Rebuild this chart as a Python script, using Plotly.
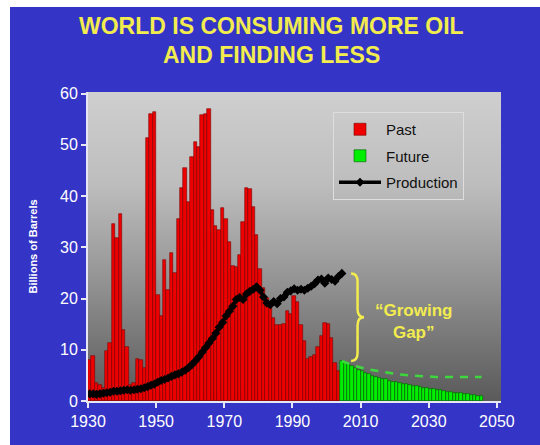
import base64
import plotly.graph_objects as go

# Annual oil discoveries (billions of barrels), 1930-2003
past_years = list(range(1930, 2004))
past_found = [
    8.0, 8.8, 3.5, 3.2, 2.6, 9.7, 11.4, 34.5, 31.8, 36.5,
    13.9, 10.5, 3.1, 3.6, 8.2, 8.0, 6.5, 51.3, 56.0, 56.4,
    20.7, 16.5, 27.6, 21.7, 28.8, 25.0, 35.5, 41.6, 45.4, 38.8,
    47.7, 50.5, 49.5, 55.8, 56.0, 57.0, 37.3, 34.2, 33.3, 37.6,
    35.5, 31.1, 26.3, 26.1, 28.5, 35.0, 41.6, 41.3, 37.9, 32.4,
    25.7, 22.1, 20.1, 18.8, 16.2, 14.9, 14.9, 15.1, 17.6, 16.9,
    20.5, 19.3, 14.9, 11.8, 8.2, 8.6, 9.0, 10.5, 12.6, 15.2,
    15.0, 12.3, 7.5, 5.8,
]

# Projected discoveries, 2004-2045
future_years = list(range(2004, 2046))
future_found = [
    7.8, 7.7, 7.3, 6.9, 6.5, 6.1, 5.8, 5.5, 5.2, 4.9,
    4.7, 4.5, 4.3, 4.2, 4.0, 3.8, 3.7, 3.5, 3.4, 3.3,
    3.1, 3.0, 2.9, 2.8, 2.6, 2.5, 2.4, 2.3, 2.2, 2.1,
    1.9, 1.8, 1.7, 1.6, 1.6, 1.5, 1.4, 1.3, 1.2, 1.1,
    1.0, 0.9,
]

# Annual production, 1930-2004
prod_years = list(range(1930, 2005))
production = [
    1.4, 1.4, 1.3, 1.4, 1.5, 1.6, 1.7, 1.9, 1.9, 2.0,
    2.1, 2.2, 2.1, 2.2, 2.3, 2.4, 2.6, 2.8, 3.1, 3.3,
    3.7, 4.0, 4.2, 4.5, 4.8, 5.1, 5.3, 5.6, 6.0, 6.5,
    7.1, 7.8, 8.6, 9.5, 10.4, 11.3, 12.2, 13.2, 14.4, 15.3,
    16.6, 17.5, 18.5, 19.8, 20.2, 19.8, 20.9, 21.4, 21.8, 22.3,
    21.6, 20.3, 19.1, 18.8, 19.4, 19.0, 20.0, 20.3, 21.2, 21.5,
    21.9, 21.6, 21.8, 21.6, 22.0, 22.4, 22.9, 23.6, 23.8, 23.0,
    24.0, 23.7, 23.4, 24.3, 24.9,
]

# Dashed outlook line for future discoveries
trend_years = [2004.5, 2008, 2012, 2016, 2020, 2024, 2028, 2032, 2045.5]
trend_vals = [7.8, 6.9, 6.2, 5.7, 5.3, 5.0, 4.8, 4.7, 4.7]

x_ticks = list(range(1930, 2051, 20))
y_ticks = list(range(0, 61, 10))

title_lines = ["WORLD IS CONSUMING MORE OIL", "AND FINDING LESS"]

BLUE = "#3434c6"
YELLOW = "#f2ec4e"
FONT = "Arial, 'Liberation Sans', sans-serif"

W, H = 540, 445
ML, MR, MT, MB = 88, 39, 92, 44
PW, PH = W - ML - MR, H - MT - MB

fig = go.Figure()

fig.add_trace(go.Bar(
    x=past_years, y=past_found, width=1, offset=0, name="Past",
    legendgroup="a",
    marker=dict(color="#ee0000", line=dict(color="#7a0000", width=0.6)),
))
fig.add_trace(go.Bar(
    x=future_years, y=future_found, width=1, offset=0, name="Future",
    legendgroup="b",
    marker=dict(color="#00ee00", line=dict(color="#0a5a0a", width=0.6)),
))
fig.add_trace(go.Scatter(
    x=trend_years, y=trend_vals, mode="lines", showlegend=False,
    line=dict(color="#3ed83e", width=2.5, dash="8px,7px"),
))
fig.add_trace(go.Scatter(
    x=[y + 0.5 for y in prod_years], y=production, mode="lines+markers",
    name="Production", legendgroup="c",
    line=dict(color="black", width=3.5),
    marker=dict(symbol="diamond", size=7, color="black"),
))

# Curly brace spanning the gap between production and new discoveries
top = production[-1]
bot = future_found[0]
mid = (top + bot) / 2
xl, xs, xt, r = 2007.2, 2009.1, 2011.0, 1.6
brace = (
    f"M {xl},{top} Q {xs},{top} {xs},{top - r} L {xs},{mid + r} "
    f"Q {xs},{mid} {xt},{mid} Q {xs},{mid} {xs},{mid - r} "
    f"L {xs},{bot + r} Q {xs},{bot} {xl},{bot}"
)
shapes = [dict(type="path", path=brace, xref="x", yref="y",
               line=dict(color=YELLOW, width=2.5))]


def px_x(px):
    return (px - ML) / PW


def px_y(py):
    return (H - MB - py) / PH


# white page edge along the top and left
shapes.append(dict(type="rect", xref="paper", yref="paper",
                   x0=px_x(-5), x1=px_x(W + 5), y0=px_y(7), y1=px_y(-5),
                   fillcolor="white", line=dict(width=0), layer="above"))
shapes.append(dict(type="rect", xref="paper", yref="paper",
                   x0=px_x(-5), x1=px_x(10), y0=px_y(H + 5), y1=px_y(-5),
                   fillcolor="white", line=dict(width=0), layer="above"))

# vertical grey gradient behind the plot area
svg = (
    "<svg xmlns='http://www.w3.org/2000/svg' width='10' height='100' "
    "preserveAspectRatio='none' viewBox='0 0 10 100'>"
    "<defs><linearGradient id='g' x1='0' y1='0' x2='0' y2='1'>"
    "<stop offset='0' stop-color='#cfcfcf'/>"
    "<stop offset='0.3' stop-color='#bdbdbd'/>"
    "<stop offset='0.55' stop-color='#9c9c9c'/>"
    "<stop offset='0.78' stop-color='#7a7a7a'/>"
    "<stop offset='1' stop-color='#5a5a5a'/>"
    "</linearGradient></defs>"
    "<rect width='10' height='100' fill='url(#g)'/></svg>"
)
grad_src = "data:image/svg+xml;base64," + base64.b64encode(svg.encode()).decode()

axis_common = dict(
    showgrid=False, zeroline=False, showline=True, linecolor="#e6e6f4",
    linewidth=2, ticks="outside", ticklen=5, tickwidth=2, tickcolor="#e6e6f4",
    tickfont=dict(family=FONT, size=16, color="white"),
)

# two-line title, centred on the page rather than on the plot area
annotations = [
    dict(text=line, x=px_x(W / 2 + 1), y=px_y(cy), xref="paper", yref="paper",
         xanchor="center", yanchor="middle", showarrow=False,
         font=dict(family=FONT, size=23, color=YELLOW, weight="bold"))
    for line, cy in zip(title_lines, [26, 55])
]

annotations += [
    dict(text="\u201cGrowing<br>Gap\u201d", x=2025.4, y=15.5,
         xref="x", yref="y", showarrow=False, align="center",
         font=dict(family=FONT, size=17, color=YELLOW, weight="bold")),
    dict(text="Billions of Barrels", textangle=-90, x=px_x(32), y=0.5,
         xref="paper", yref="paper", xanchor="center", yanchor="middle",
         showarrow=False,
         font=dict(family=FONT, size=11, color="white", weight="bold")),
]

fig.update_layout(
    width=W, height=H,
    margin=dict(l=ML, r=MR, t=MT, b=MB, pad=0),
    paper_bgcolor=BLUE, plot_bgcolor="#9c9c9c",
    barmode="overlay", bargap=0,
    xaxis=dict(range=[1930, 2051.2], tickvals=x_ticks, **axis_common),
    yaxis=dict(range=[0, 60.3], tickvals=y_ticks, **axis_common),
    yaxis2=dict(range=[0, 60.3], tickvals=y_ticks, overlaying="y",
                side="right", **axis_common),
    legend=dict(
        x=px_x(333), y=px_y(112), xanchor="left", yanchor="top",
        bgcolor="rgba(0,0,0,0)", bordercolor="#dedede", borderwidth=1,
        font=dict(family=FONT, size=15, color="#111111"),
        tracegroupgap=4, itemwidth=42, entrywidth=140,
        entrywidthmode="pixels",
    ),
    images=[dict(source=grad_src, xref="paper", yref="paper", x=0, y=1,
                 sizex=1, sizey=1, sizing="stretch", xanchor="left",
                 yanchor="top", layer="below")],
    shapes=shapes,
    annotations=annotations,
)

fig.write_html("out.html")
